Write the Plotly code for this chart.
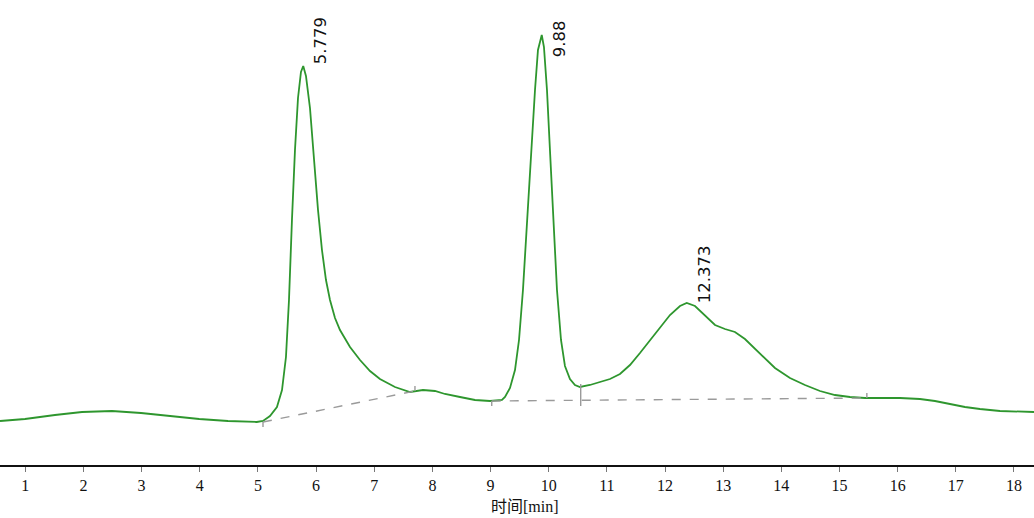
import plotly.graph_objects as go

# Chromatogram trace: retention time (min) and detector signal (a.u.)
time_min = [0.565, 0.995, 1.51, 1.975, 2.49, 2.99, 3.49, 3.99, 4.485, 4.98,
            5.087, 5.207, 5.327, 5.414, 5.482, 5.534, 5.585, 5.637, 5.689, 5.74,
            5.779, 5.826, 5.895, 5.964, 6.033, 6.101, 6.17, 6.239, 6.325, 6.411,
            6.583, 6.755, 6.927, 7.098, 7.356, 7.614, 7.838, 8.044, 8.216, 8.474,
            8.732, 8.99, 9.196, 9.248, 9.334, 9.42, 9.489, 9.557, 9.626, 9.695,
            9.764, 9.815, 9.88, 9.918, 9.97, 10.021, 10.073, 10.142, 10.211, 10.279,
            10.365, 10.451, 10.537, 10.709, 10.881, 11.053, 11.225, 11.397, 11.569, 11.741,
            11.913, 12.085, 12.257, 12.373, 12.515, 12.687, 12.859, 13.03, 13.202, 13.374,
            13.546, 13.718, 13.89, 14.148, 14.406, 14.664, 14.922, 15.18, 15.438, 15.696,
            16.04, 16.383, 16.641, 16.899, 17.157, 17.415, 17.759, 18.344]
signal = [44, 46, 50, 53, 54, 52, 49, 46, 44, 43,
          44, 49, 58, 75, 108, 165, 245, 315, 367, 393,
          399, 389, 357, 305, 255, 215, 185, 165, 147, 135,
          118, 105, 94, 86, 78, 73, 75, 74, 71, 68,
          65, 64, 65, 68, 77, 95, 125, 175, 245, 315,
          375, 415, 430, 418, 375, 315, 250, 175, 125, 99,
          86, 80, 78, 80, 83, 86, 91, 100, 112, 125,
          138, 150, 159, 162, 159, 149, 140, 136, 133, 126,
          116, 106, 97, 87, 80, 74, 70, 68, 67, 67,
          67, 66, 64, 61, 58, 56, 54, 53]

# Integration baselines (start/end time, start/end signal)
bl1_time = [5.087, 7.70]
bl1_signal = [43, 74]
bl2_time = [9.02, 15.47]
bl2_signal = [64, 67]

# Baseline event markers: time, from-signal, to-signal
evt_time = [5.087, 7.70, 9.02, 10.55, 15.47]
evt_from = [43, 74, 64, 59, 67]
evt_to = [38, 79, 59, 81, 72]

# Peak labels
peak_time = [5.779, 9.88, 12.373]
peak_signal = [399, 430, 162]
peak_label = ["5.779", "9.88", "12.373"]
label_yanchor = ["bottom", "middle", "bottom"]
label_yshift = [0, -4, -2]

GREEN = "#2E962E"
GRAY = "#9A9A9A"

fig = go.Figure()

fig.add_trace(go.Scatter(x=time_min, y=signal, mode="lines",
                         line=dict(color=GREEN, width=1.8), hoverinfo="skip"))

for bt, bs in [(bl1_time, bl1_signal), (bl2_time, bl2_signal)]:
    fig.add_trace(go.Scatter(x=bt, y=bs, mode="lines",
                             line=dict(color=GRAY, width=1.4, dash="dash"),
                             hoverinfo="skip"))

ex, ey = [], []
for t, a, b in zip(evt_time, evt_from, evt_to):
    ex += [t, t, None]
    ey += [a, b, None]
fig.add_trace(go.Scatter(x=ex, y=ey, mode="lines",
                         line=dict(color=GRAY, width=1.4), hoverinfo="skip"))

for t, s, lab, ya, ys in zip(peak_time, peak_signal, peak_label, label_yanchor, label_yshift):
    fig.add_annotation(x=t, y=s, text=lab, textangle=-90, showarrow=False,
                       xanchor="left", yanchor=ya, xshift=6, yshift=ys,
                       font=dict(family="DejaVu Sans, Verdana, sans-serif", size=16.5, color="#111"))

fig.add_annotation(xref="paper", yref="paper", x=0.508, y=0, yshift=-41,
                   xanchor="center", yanchor="middle", showarrow=False,
                   text="时间[min]",
                   font=dict(family="Liberation Serif, Noto Sans CJK SC, serif", size=16, color="#111"))

fig.update_layout(
    width=1034, height=518,
    margin=dict(l=0, r=0, t=0, b=53),
    paper_bgcolor="white", plot_bgcolor="white",
    showlegend=False,
    xaxis=dict(range=[0.565, 18.344], tick0=0, dtick=1, showgrid=False, zeroline=False,
               showline=True, linecolor="#111", linewidth=1.5,
               ticks="outside", ticklen=5, tickcolor="#777", tickwidth=1,
               tickfont=dict(family="Liberation Serif, Times New Roman, serif", size=16, color="#111")),
    yaxis=dict(range=[0, 465], visible=False, showgrid=False, zeroline=False),
)

fig.write_html("out.html", config={"displayModeBar": False},
               post_script="document.body.style.margin='0';document.body.style.overflow='hidden';")
